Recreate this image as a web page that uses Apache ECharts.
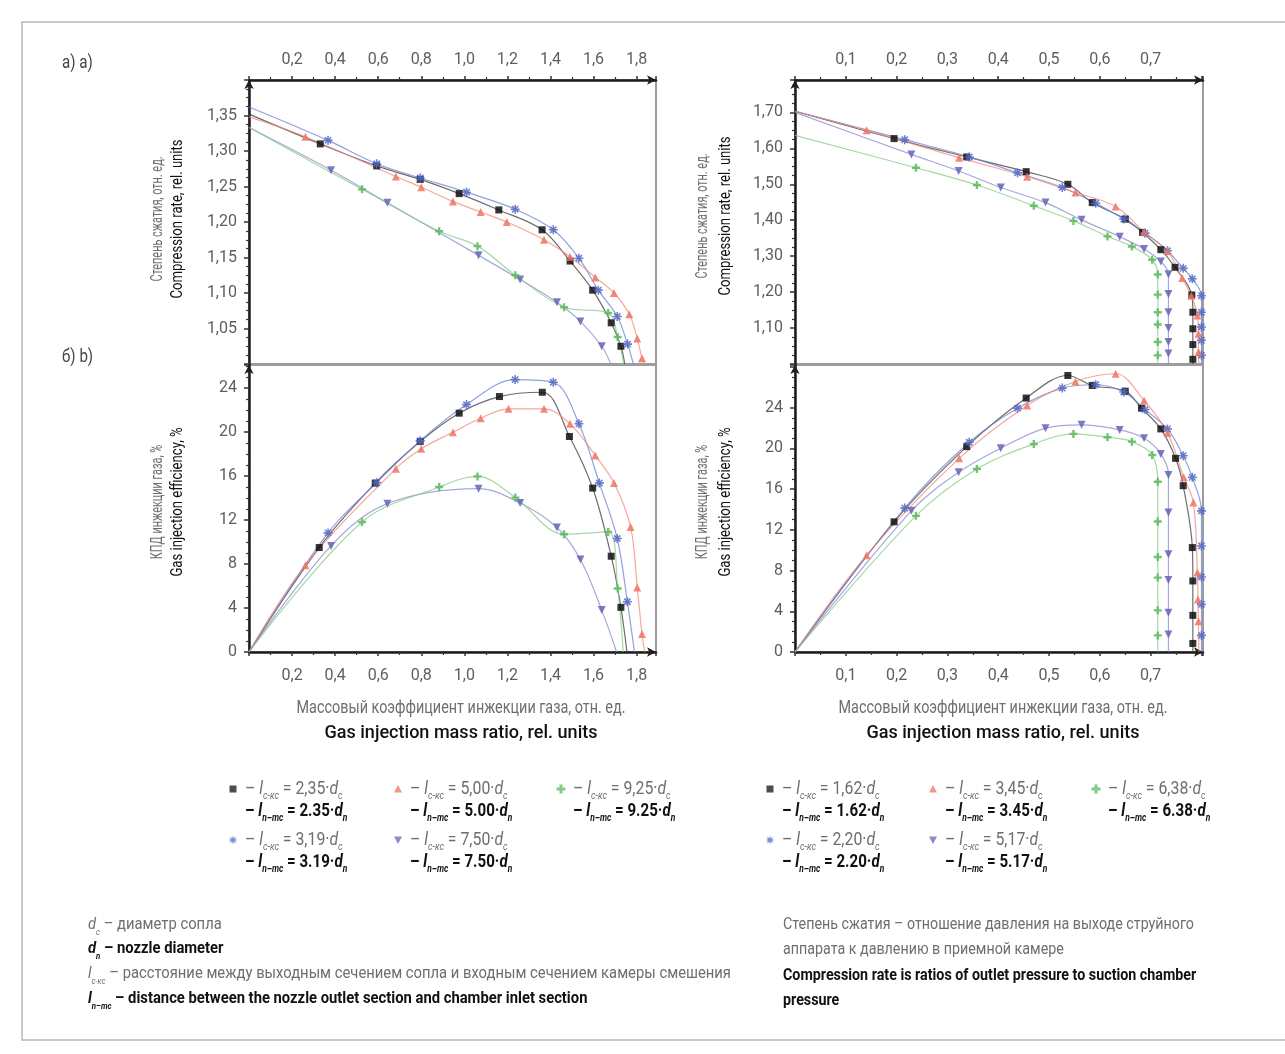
<!DOCTYPE html>
<html>
<head>
<meta charset="utf-8">
<script src="https://cdn.jsdelivr.net/npm/echarts@6/dist/echarts.min.js"></script>
<style>
html,body{margin:0;padding:0;background:#fff}
#chart{width:1285px;height:1054px}
</style>
</head>
<body>
<div id="chart"></div>
<script>
// ---------- Set A (left column): l = 2.35, 3.19, 5.00, 7.50, 9.25 d ----------
// compression rate vs gas injection mass ratio
const compA_235 = [[0.331,1.310],[0.593,1.279],[0.795,1.260],[0.976,1.240],[1.160,1.217],[1.361,1.189],[1.491,1.145],[1.596,1.104],[1.682,1.058],[1.727,1.025]];
const compA_319 = [[0.367,1.315],[0.593,1.282],[0.795,1.262],[1.010,1.242],[1.236,1.218],[1.413,1.189],[1.532,1.149],[1.622,1.104],[1.710,1.067],[1.758,1.028]];
const compA_500 = [[0.262,1.320],[0.682,1.264],[0.800,1.249],[0.947,1.229],[1.076,1.214],[1.197,1.200],[1.370,1.175],[1.491,1.151],[1.608,1.122],[1.695,1.100],[1.766,1.070],[1.803,1.036],[1.825,1.008]];
const compA_750 = [[0.381,1.273],[0.643,1.227],[1.066,1.153],[1.259,1.119],[1.430,1.087],[1.539,1.060],[1.638,1.025]];
const compA_925 = [[0.525,1.246],[0.883,1.187],[1.061,1.166],[1.237,1.125],[1.463,1.080],[1.668,1.072],[1.712,1.038]];
// fitted curves: value at zero injection, and injection ratio where the curve reaches 1.00
const compA_start = [1.352, 1.362, 1.348, 1.333, 1.333];
const compA_end   = [1.745, 1.785, 1.835, 1.680, 1.740];

// injection efficiency, %
const effA_235 = [[0.326,9.50],[0.586,15.36],[0.795,19.15],[0.976,21.72],[1.163,23.23],[1.362,23.62],[1.488,19.60],[1.596,14.91],[1.682,8.71],[1.727,4.06]];
const effA_319 = [[0.367,10.83],[0.593,15.40],[0.795,19.20],[1.010,22.50],[1.236,24.77],[1.413,24.53],[1.532,20.75],[1.627,15.36],[1.710,10.32],[1.757,4.57]];
const effA_500 = [[0.262,7.89],[0.682,16.67],[0.800,18.48],[0.947,19.99],[1.076,21.26],[1.205,22.11],[1.370,22.11],[1.491,20.75],[1.608,17.88],[1.695,15.36],[1.772,11.37],[1.803,5.87],[1.825,1.63]];
const effA_750 = [[0.381,9.65],[0.643,13.49],[1.066,14.85],[1.259,13.55],[1.430,11.32],[1.539,8.41],[1.638,3.81]];
const effA_925 = [[0.525,11.82],[0.883,15.00],[1.061,15.97],[1.237,14.04],[1.463,10.71],[1.668,10.92],[1.712,5.78]];
const effA_end = [1.755, 1.790, 1.838, 1.707, 1.738];

// ---------- Set B (right column): l = 1.62, 2.20, 3.45, 5.17, 6.38 d ----------
const compB_162 = [[0.195,1.627],[0.338,1.576],[0.455,1.535],[0.537,1.500],[0.585,1.449],[0.650,1.403],[0.684,1.366],[0.720,1.318],[0.748,1.269],[0.781,1.192],[0.783,1.144],[0.783,1.098],[0.783,1.054],[0.783,1.013]];
const compB_220 = [[0.216,1.624],[0.343,1.576],[0.438,1.532],[0.526,1.491],[0.592,1.447],[0.647,1.403],[0.689,1.364],[0.733,1.315],[0.764,1.266],[0.782,1.237],[0.800,1.190],[0.800,1.144],[0.800,1.103],[0.800,1.066],[0.800,1.024]];
const compB_345 = [[0.141,1.650],[0.323,1.574],[0.457,1.521],[0.552,1.477],[0.631,1.438],[0.687,1.368],[0.733,1.314],[0.762,1.239],[0.780,1.190],[0.792,1.135],[0.794,1.084],[0.794,1.034]];
const compB_517 = [[0.229,1.583],[0.322,1.537],[0.405,1.491],[0.493,1.449],[0.564,1.401],[0.639,1.354],[0.687,1.320],[0.720,1.285],[0.735,1.250],[0.735,1.195],[0.735,1.144],[0.735,1.100],[0.735,1.061],[0.735,1.029]];
const compB_638 = [[0.238,1.546],[0.358,1.498],[0.470,1.440],[0.548,1.398],[0.615,1.355],[0.663,1.327],[0.703,1.290],[0.714,1.249],[0.714,1.193],[0.714,1.144],[0.714,1.110],[0.714,1.061],[0.714,1.024]];
const compB_start = [1.703, 1.703, 1.703, 1.700, 1.636];
const compB_end   = [0.783, 0.800, 0.795, 0.735, 0.714];

const effB_162 = [[0.195,12.79],[0.338,20.18],[0.455,24.95],[0.537,27.17],[0.585,26.19],[0.650,25.63],[0.682,23.96],[0.720,21.92],[0.749,19.03],[0.764,16.34],[0.782,10.26],[0.783,6.98],[0.783,3.60],[0.783,0.84]];
const effB_220 = [[0.216,14.14],[0.343,20.61],[0.438,23.96],[0.526,25.93],[0.592,26.26],[0.647,25.54],[0.689,23.82],[0.733,21.92],[0.764,19.29],[0.782,17.16],[0.800,13.87],[0.800,10.42],[0.800,7.37],[0.800,4.68],[0.800,1.63]];
const effB_345 = [[0.141,9.51],[0.323,19.03],[0.457,24.22],[0.552,26.58],[0.631,27.34],[0.687,24.71],[0.733,21.53],[0.765,17.16],[0.784,14.70],[0.792,7.80],[0.793,5.17],[0.794,3.03]];
const effB_517 = [[0.229,13.87],[0.322,17.65],[0.405,20.02],[0.493,21.99],[0.564,22.32],[0.639,21.82],[0.687,21.00],[0.720,19.46],[0.735,17.39],[0.735,13.71],[0.735,9.61],[0.735,7.07],[0.735,3.86],[0.735,1.72]];
const effB_638 = [[0.238,13.38],[0.358,17.98],[0.470,20.44],[0.548,21.43],[0.615,21.10],[0.663,20.67],[0.703,19.36],[0.714,16.73],[0.714,12.83],[0.714,9.34],[0.714,7.31],[0.714,4.09],[0.714,1.63]];
const effB_end = [0.783, 0.800, 0.795, 0.735, 0.714];

// legend captions
const legendA = ['2,35', '3,19', '5,00', '7,50', '9,25'];
const legendB = ['1,62', '2,20', '3,45', '5,17', '6,38'];

// ---------- styles ----------
const FONT = 'Roboto, "Noto Sans", sans-serif';
const PLUS = 'path://M3.5,0h3v3.5h3.5v3h-3.5v3.5h-3v-3.5h-3.5v-3h3.5z';
const ASTER = 'path://M4,0h2v3.3l2.3,-2.3 1.4,1.4 -2.3,2.3h3.3v2h-3.3l2.3,2.3 -1.4,1.4 -2.3,-2.3v3.3h-2v-3.3l-2.3,2.3 -1.4,-1.4 2.3,-2.3h-3.3v-2h3.3l-2.3,-2.3 1.4,-1.4 2.3,2.3z';
// order: black square, blue asterisk, red triangle, violet down-triangle, green plus
const STYLES = [
  {mark:'#111111', line:'#3c3c3c', symbol:'rect', size:7},
  {mark:'#5569c4', line:'#6c80d6', symbol:ASTER, size:9},
  {mark:'#ee7563', line:'#f28a7a', symbol:'triangle', size:8},
  {mark:'#6464b8', line:'#8a8ad2', symbol:'path://M0,0h10l-5,9z', size:8},
  {mark:'#5cb85c', line:'#86cc86', symbol:PLUS, size:8}
];

const setA = {comp:[compA_235, compA_319, compA_500, compA_750, compA_925], eff:[effA_235, effA_319, effA_500, effA_750, effA_925]};
const setB = {comp:[compB_162, compB_220, compB_345, compB_517, compB_638], eff:[effB_162, effB_220, effB_345, effB_517, effB_638]};

const series = [];
function addPanel(list, axisIdx, curveOf) {
  list.forEach((pts, i) => {
    series.push({
      type:'line', xAxisIndex:axisIdx, yAxisIndex:axisIdx, data:curveOf(pts, i),
      smooth:0.35, showSymbol:false, silent:true, z:2,
      lineStyle:{color:STYLES[i].line, width:1.2, opacity:0.75}
    });
  });
  list.forEach((pts, i) => {
    series.push({
      type:'scatter', xAxisIndex:axisIdx, yAxisIndex:axisIdx, data:pts, silent:true, z:3,
      symbol:STYLES[i].symbol, symbolSize:STYLES[i].size,
      itemStyle:{color:STYLES[i].mark, opacity:0.85}
    });
  });
}
addPanel(setA.comp, 0, (p, i) => [[0, compA_start[i]]].concat(p, [[compA_end[i], 1.0]]));
addPanel(setA.eff, 1, (p, i) => [[0, 0]].concat(p, [[effA_end[i], 0]]));
addPanel(setB.comp, 2, (p, i) => [[0, compB_start[i]]].concat(p, [[compB_end[i], 1.0]]));
addPanel(setB.eff, 3, (p, i) => [[0, 0]].concat(p, [[effB_end[i], 0]]));

// ---------- axes ----------
const LABEL = {color:'#5e5e5e', fontSize:16, fontFamily:FONT};
function fmt(dec, lim) {
  return v => (v > lim ? '' : v.toFixed(dec).replace('.', ','));
}
function xAx(grid, pos, max, interval, lim) {
  return {
    type:'value', gridIndex:grid, position:pos, min:0, max, interval,
    axisLine:{show:true, onZero:false, lineStyle:{color:'#1e1e1e', width:2.5}, symbol:['none','arrow'], symbolSize:[7,9]},
    axisTick:{show:true, length:4, lineStyle:{color:'#333', width:1.5}},
    minorTick:{show:true, splitNumber:2, length:3, lineStyle:{color:'#333', width:1.2}},
    splitLine:{show:false}, minorSplitLine:{show:false},
    axisLabel:Object.assign({margin:pos === 'top' ? 12 : 16, showMinLabel:false, showMaxLabel:false,
      formatter:fmt(1, lim)}, LABEL)
  };
}
function yAx(grid, min, max, interval, dec, showMin, lim) {
  return {
    type:'value', gridIndex:grid, min, max, interval,
    axisLine:{show:true, onZero:false, lineStyle:{color:'#1e1e1e', width:2.5}, symbol:['none','arrow'], symbolSize:[7,9]},
    axisTick:{show:true, length:5, lineStyle:{color:'#333', width:1.5}},
    minorTick:{show:true, splitNumber:4, length:3, lineStyle:{color:'#333', width:1.2}},
    splitLine:{show:false}, minorSplitLine:{show:false},
    axisLabel:Object.assign({margin:12, showMinLabel:showMin, showMaxLabel:false,
      formatter:fmt(dec, lim)}, LABEL)
  };
}

// ---------- texts ----------
const GREY = '#6e6e6e', BLACK = '#111';
function rich(size) {
  const base = {fontFamily:FONT, fontSize:size, lineHeight:24};
  const sub = {fontFamily:FONT, fontSize:Math.round(size * 0.55), fontStyle:'italic', verticalAlign:'bottom', lineHeight:10};
  return {
    g:Object.assign({fill:GREY}, base),
    gi:Object.assign({fill:GREY, fontStyle:'italic'}, base),
    gs:Object.assign({fill:GREY}, sub),
    b:Object.assign({fill:BLACK, fontWeight:'bold'}, base),
    bi:Object.assign({fill:BLACK, fontWeight:'bold', fontStyle:'italic'}, base),
    bs:Object.assign({fill:BLACK, fontWeight:'bold'}, sub)
  };
}
function txt(x, y, text, opts) {
  opts = opts || {};
  return {
    type:'text', x, y, rotation:opts.rot || 0, scaleX:opts.sx || 0.84, silent:true,
    style:{text, align:opts.align || 'left', verticalAlign:'middle',
      fontFamily:FONT, fontSize:opts.size || 17, fontWeight:opts.weight || 'normal',
      fill:opts.color || GREY, rich:opts.rich}
  };
}
const graphics = [];
graphics.push({type:'rect', silent:true, shape:{x:22, y:22, width:1300, height:1018},
  style:{fill:null, stroke:'#b8b8b8', lineWidth:1.5}});
graphics.push(txt(62, 63, 'а) a)', {color:'#444', size:18}));
graphics.push(txt(62, 357, 'б) b)', {color:'#444', size:18}));

// axis titles
[[158, 178, 219, 'Степень сжатия, отн. ед.', 'Compression rate, rel. units'],
 [158, 178, 502, 'КПД инжекции газа, %', 'Gas injection efficiency, %'],
 [703, 726, 216, 'Степень сжатия, отн. ед.', 'Compression rate, rel. units'],
 [703, 726, 502, 'КПД инжекции газа, %', 'Gas injection efficiency, %']
].forEach(t => {
  graphics.push(txt(t[0], t[2], t[3], {rot:Math.PI/2, align:'center', color:GREY, size:16, sx:0.68}));
  graphics.push(txt(t[1], t[2], t[4], {rot:Math.PI/2, align:'center', color:BLACK, size:16, sx:0.82}));
});
[461, 1003].forEach(cx => {
  graphics.push(txt(cx, 708, 'Массовый коэффициент инжекции газа, отн. ед.', {align:'center', color:GREY, size:18, sx:0.80}));
  graphics.push(txt(cx, 733, 'Gas injection mass ratio, rel. units', {align:'center', color:BLACK, size:19, sx:0.95, weight:500}));
});

// legends
function starPts(x, y, n, r1, r2) {
  const pts = [];
  for (let k = 0; k < 2 * n; k++) {
    const a = Math.PI * k / n - Math.PI / 2;
    const r = k % 2 ? r2 : r1;
    pts.push([x + r * Math.cos(a), y + r * Math.sin(a)]);
  }
  return pts;
}
function legendIcon(i, x, y) {
  const st = {fill:STYLES[i].mark, opacity:0.75};
  if (i === 0) return {type:'rect', silent:true, shape:{x:x-3.5, y:y-3.5, width:7, height:7}, style:st};
  if (i === 2) return {type:'polygon', silent:true, shape:{points:[[x, y-4],[x+4, y+3.5],[x-4, y+3.5]]}, style:st};
  if (i === 3) return {type:'polygon', silent:true, shape:{points:[[x-4, y-3.5],[x+4, y-3.5],[x, y+4]]}, style:st};
  if (i === 4) return {type:'polygon', silent:true, shape:{points:[[x-1.5,y-4.5],[x+1.5,y-4.5],[x+1.5,y-1.5],[x+4.5,y-1.5],[x+4.5,y+1.5],[x+1.5,y+1.5],[x+1.5,y+4.5],[x-1.5,y+4.5],[x-1.5,y+1.5],[x-4.5,y+1.5],[x-4.5,y-1.5],[x-1.5,y-1.5]]}, style:st};
  return {type:'polygon', silent:true, shape:{points:starPts(x, y, 8, 4.8, 2)}, style:st};
}
function addLegend(vals, cols, rows) {
  const order = [[0,0,0],[2,1,0],[4,2,0],[1,0,1],[3,1,1]];
  order.forEach(o => {
    const i = o[0], cx = cols[o[1]], cy = rows[o[2]];
    const v = vals[i];
    graphics.push(legendIcon(i, cx, cy));
    graphics.push(txt(cx + 12, cy, '{g|– }{gi|l}{gs|с-кс}{g| = ' + v + '·}{gi|d}{gs|c}', {rich:rich(18), sx:0.88}));
    graphics.push(txt(cx + 12, cy + 22, '{b|– }{bi|l}{bs|n–mc}{b| = ' + v.replace(',', '.') + '·}{bi|d}{bs|n}', {rich:rich(18)}));
  });
}
addLegend(legendA, [233, 398, 561], [789, 840]);
addLegend(legendB, [770, 933, 1096], [789, 840]);

// footnotes
const R16 = rich(17);
graphics.push(txt(88, 925, '{gi|d}{gs|c}{g| – диаметр сопла}', {rich:R16, sx:0.87}));
graphics.push(txt(88, 949, '{bi|d}{bs|n}{b| – nozzle diameter}', {rich:R16, sx:0.87}));
graphics.push(txt(88, 974, '{gi|l}{gs|с-кс}{g| – расстояние между выходным сечением сопла и входным сечением камеры смешения}', {rich:R16, sx:0.87}));
graphics.push(txt(88, 999, '{bi|l}{bs|n–mc}{b| – distance between the nozzle outlet section and chamber inlet section}', {rich:R16, sx:0.87}));
graphics.push(txt(783, 925, 'Степень сжатия – отношение давления на выходе струйного', {color:GREY}));
graphics.push(txt(783, 950, 'аппарата к давлению в приемной камере', {color:GREY}));
graphics.push(txt(783, 976, 'Compression rate is ratios of outlet pressure to suction chamber', {color:BLACK, weight:'bold'}));
graphics.push(txt(783, 1001, 'pressure', {color:BLACK, weight:'bold'}));

const chart = echarts.init(document.getElementById('chart'), null, {renderer:'canvas'});
chart.setOption({
  backgroundColor:'#ffffff',
  animation:false,
  grid:[
    {left:249, top:80, width:407, height:284, show:true, borderColor:'#9c9c9c', borderWidth:2},
    {left:249, top:365, width:407, height:287, show:true, borderColor:'#9c9c9c', borderWidth:2},
    {left:795, top:80, width:408, height:284, show:true, borderColor:'#9c9c9c', borderWidth:2},
    {left:795, top:365, width:408, height:287, show:true, borderColor:'#9c9c9c', borderWidth:2}
  ],
  xAxis:[
    xAx(0, 'top', 1.89, 0.2, 1.85),
    xAx(1, 'bottom', 1.89, 0.2, 1.85),
    xAx(2, 'top', 0.803, 0.1, 0.75),
    xAx(3, 'bottom', 0.803, 0.1, 0.75)
  ],
  yAxis:[
    yAx(0, 1.0, 1.4, 0.05, 2, false, 1.37),
    yAx(1, 0, 26.1, 4, 0, true, 25),
    yAx(2, 1.0, 1.79, 0.1, 2, false, 1.75),
    yAx(3, 0, 28.2, 4, 0, true, 25)
  ],
  series,
  graphic:graphics
});
</script>
</body>
</html>
